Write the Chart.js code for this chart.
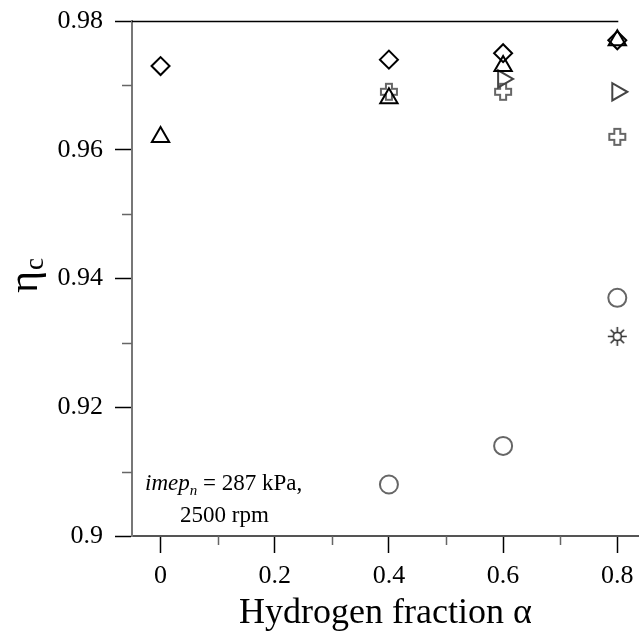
<!DOCTYPE html>
<html>
<head>
<meta charset="utf-8">
<script src="https://cdn.jsdelivr.net/npm/chart.js@4/dist/chart.umd.min.js"></script>
<style>
    html, body { margin: 0; padding: 0; background: #fff; }
    #wrap { width: 639px; height: 635px; }
</style>
</head>
<body>
<div id="wrap"><canvas id="chart" width="639" height="635"></canvas></div>
<script>
// data
const alphaAll = [0, 0.4, 0.6, 0.8];
const diamondEta = [0.973, 0.974, 0.975, 0.977];
const triangleEta = [0.962, 0.968, 0.973, 0.977];
const rightTriAlpha = [0.6, 0.8];
const rightTriEta = [0.971, 0.969];
const plusAlpha = [0.4, 0.6, 0.8];
const plusEta = [0.969, 0.969, 0.962];
const circleAlpha = [0.4, 0.6, 0.8];
const circleEta = [0.908, 0.914, 0.937];
const starAlpha = [0.8];
const starEta = [0.931];

const xMinor = [0.1, 0.3, 0.5, 0.7];
const yMinor = [0.91, 0.93, 0.95, 0.97];

const serif = '"Liberation Serif", "Times New Roman", serif';

function toPoints(xs, ys) {
    return xs.map((x, i) => ({ x: x, y: ys[i] }));
}

// outlined plus sign marker
function makePlus() {
    const c = document.createElement('canvas');
    c.width = 20; c.height = 20;
    const g = c.getContext('2d');
    g.strokeStyle = '#666';
    g.lineWidth = 2;
    g.beginPath();
    const a = 7, b = 13;
    g.moveTo(a, 2); g.lineTo(b, 2); g.lineTo(b, a); g.lineTo(18, a); g.lineTo(18, b);
    g.lineTo(b, b); g.lineTo(b, 18); g.lineTo(a, 18); g.lineTo(a, b); g.lineTo(2, b);
    g.lineTo(2, a); g.lineTo(a, a); g.closePath();
    g.stroke();
    return c;
}

// little sun / asterisk marker
function makeStar() {
    const c = document.createElement('canvas');
    c.width = 21; c.height = 21;
    const g = c.getContext('2d');
    g.strokeStyle = '#333';
    g.lineWidth = 1.6;
    g.beginPath();
    g.arc(10.5, 10.5, 4, 0, Math.PI * 2);
    g.stroke();
    g.beginPath();
    for (let k = 0; k < 8; k++) {
        const t = k * Math.PI / 4;
        g.moveTo(10.5 + Math.cos(t) * 4, 10.5 + Math.sin(t) * 4);
        g.lineTo(10.5 + Math.cos(t) * 9.5, 10.5 + Math.sin(t) * 9.5);
    }
    g.stroke();
    return c;
}

// minor ticks, top frame line, y title and note
const decorPlugin = {
    id: 'decor',
    afterDraw(chart) {
        const ctx = chart.ctx;
        const xs = chart.scales.x, ys = chart.scales.y;
        const area = chart.chartArea;
        ctx.save();
        ctx.strokeStyle = '#666';
        ctx.lineWidth = 1.5;
        ctx.beginPath();
        xMinor.forEach(v => {
            const px = Math.round(xs.getPixelForValue(v)) + 0.5;
            ctx.moveTo(px, area.bottom);
            ctx.lineTo(px, area.bottom + 9);
        });
        yMinor.forEach(v => {
            const py = Math.round(ys.getPixelForValue(v)) + 0.5;
            ctx.moveTo(area.left, py);
            ctx.lineTo(area.left - 10, py);
        });
        ctx.stroke();

        ctx.strokeStyle = '#000';
        ctx.beginPath();
        ctx.moveTo(area.left, area.top + 0.5);
        ctx.lineTo(xs.getPixelForValue(0.8) + 1, area.top + 0.5);
        ctx.stroke();

        // y title: eta with subscript c
        ctx.fillStyle = '#000';
        ctx.translate(37, 293);
        ctx.rotate(-Math.PI / 2);
        ctx.textBaseline = 'alphabetic';
        ctx.textAlign = 'left';
        ctx.font = '42px ' + serif;
        ctx.fillText('η', 0, 0);
        const w = ctx.measureText('η').width;
        ctx.font = '27px ' + serif;
        ctx.fillText('c', w + 1, 6);
        ctx.setTransform(1, 0, 0, 1, 0, 0);

        // note
        let x = 145;
        ctx.font = 'italic 23px ' + serif;
        ctx.fillText('imep', x, 490);
        x += ctx.measureText('imep').width;
        ctx.font = 'italic 15px ' + serif;
        ctx.fillText('n', x, 495);
        x += ctx.measureText('n').width;
        ctx.font = '23px ' + serif;
        ctx.fillText(' = 287 kPa,', x, 490);
        ctx.fillText('2500 rpm', 180, 522);
        ctx.restore();
    }
};

const ctx = document.getElementById('chart').getContext('2d');
new Chart(ctx, {
    type: 'scatter',
    data: {
        datasets: [
            {
                data: toPoints(alphaAll, diamondEta),
                pointStyle: 'rectRot', radius: 9,
                borderColor: '#000', borderWidth: 2, backgroundColor: 'rgba(0,0,0,0)'
            },
            {
                data: toPoints(alphaAll, triangleEta),
                pointStyle: 'triangle', radius: 10,
                borderColor: '#000', borderWidth: 2, backgroundColor: 'rgba(0,0,0,0)'
            },
            {
                data: toPoints(rightTriAlpha, rightTriEta),
                pointStyle: 'triangle', rotation: 90, radius: 10,
                borderColor: '#444', borderWidth: 2, backgroundColor: 'rgba(0,0,0,0)'
            },
            {
                data: toPoints(plusAlpha, plusEta),
                pointStyle: makePlus(), radius: 10
            },
            {
                data: toPoints(circleAlpha, circleEta),
                pointStyle: 'circle', radius: 9,
                borderColor: '#666', borderWidth: 2, backgroundColor: 'rgba(0,0,0,0)'
            },
            {
                data: toPoints(starAlpha, starEta),
                pointStyle: makeStar(), radius: 10
            }
        ]
    },
    options: {
        responsive: false,
        animation: false,
        events: [],
        layout: { autoPadding: false, padding: { top: 21, right: 0, left: 0, bottom: 0 } },
        plugins: { legend: { display: false }, tooltip: { enabled: false } },
        scales: {
            x: {
                type: 'linear',
                min: -0.05,
                max: 0.838,
                afterFit(scale) {
                    scale.height = 99;
                    scale.paddingLeft = 0;
                    scale.paddingRight = 0;
                },
                ticks: {
                    stepSize: 0.2,
                    includeBounds: false,
                    padding: 8,
                    color: '#000',
                    font: { family: serif, size: 26 },
                    callback: v => String(+v.toFixed(1))
                },
                grid: { drawOnChartArea: false, tickLength: 17, tickColor: '#000', tickWidth: 1.5 },
                border: { color: '#555', width: 2 },
                title: {
                    display: true,
                    text: 'Hydrogen fraction α',
                    color: '#000',
                    font: { family: serif, size: 36 },
                    padding: { top: 0, bottom: 0 }
                }
            },
            y: {
                min: 0.9,
                max: 0.98,
                afterFit(scale) {
                    scale.width = 132;
                    scale.paddingTop = 0;
                    scale.paddingBottom = 0;
                },
                ticks: {
                    stepSize: 0.02,
                    padding: 12,
                    color: '#000',
                    font: { family: serif, size: 26 },
                    callback: v => String(+v.toFixed(2))
                },
                grid: { drawOnChartArea: false, tickLength: 17, tickColor: '#000', tickWidth: 1.5 },
                border: { color: '#777', width: 2 }
            }
        }
    },
    plugins: [decorPlugin]
});
</script>
</body>
</html>
